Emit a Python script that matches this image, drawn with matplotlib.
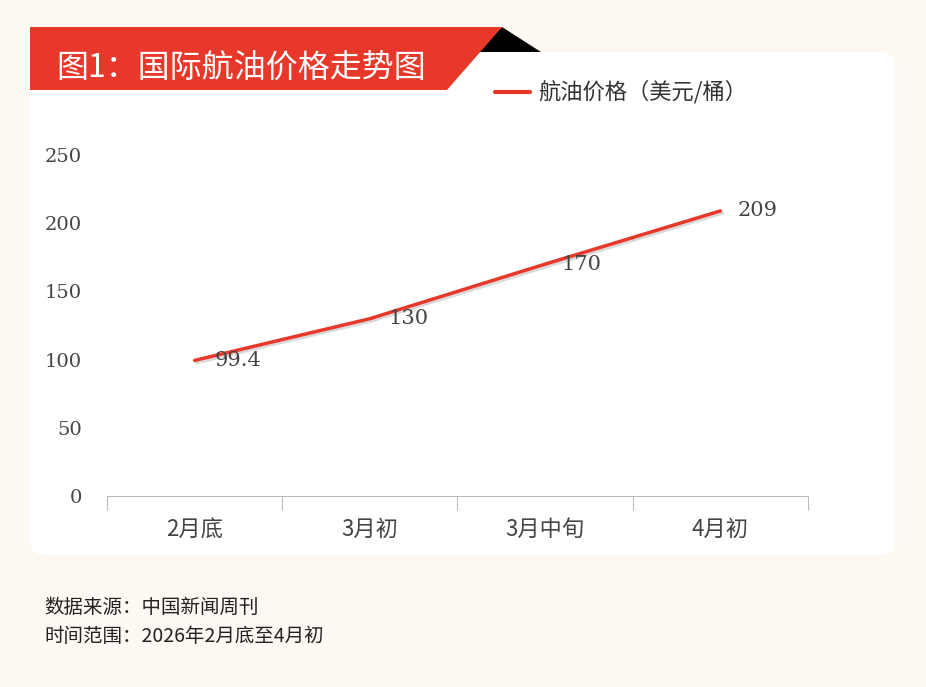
import matplotlib
matplotlib.use("Agg")
import matplotlib.pyplot as plt
from matplotlib.patches import Polygon, FancyBboxPatch
import matplotlib.patheffects as pe

plt.rcParams['font.family'] = ['Noto Sans CJK SC', 'DejaVu Sans']

categories = ['2月底', '3月初', '3月中旬', '4月初']
prices = [99.4, 130, 170, 209]
price_labels = ['99.4', '130', '170', '209']
yticks = [0, 50, 100, 150, 200, 250]

W, H = 926, 687
RED = '#e8382a'
fig = plt.figure(figsize=(W / 100, H / 100), dpi=100)
fig.patch.set_facecolor('#fdf8f1')

# decoration layer in pixel coordinates (y down)
deco = fig.add_axes([0, 0, 1, 1])
deco.set_xlim(0, W)
deco.set_ylim(H, 0)
deco.axis('off')
deco.add_patch(FancyBboxPatch((30, 52), 865, 503, boxstyle='round,pad=0,rounding_size=14',
                              facecolor='white', edgecolor='none'))
deco.add_patch(Polygon([(502, 27), (478, 52), (541, 52)], closed=True, facecolor='black'))
deco.add_patch(Polygon([(30, 27), (502, 27), (447, 90), (30, 90)], closed=True, facecolor=RED))
deco.text(56, 68, '图1：国际航油价格走势图', color='white', fontsize=23, va='center')
deco.plot([495, 530], [92, 92], color=RED, lw=3, solid_capstyle='round')
deco.text(538, 92, '航油价格（美元/桶）', fontsize=16, va='center', color='#333333')
deco.text(44, 607, '数据来源：中国新闻周刊', fontsize=14, va='center', color='#222222')
deco.text(44, 636, '时间范围：2026年2月底至4月初', fontsize=14, va='center', color='#222222')

ax = fig.add_axes([107 / W, 1 - 496 / H, 701 / W, 341 / H])
ax.set_facecolor('none')
x = [i + 0.5 for i in range(len(categories))]
ax.plot(x, prices, color=RED, lw=2.5, solid_capstyle='round',
        path_effects=[pe.SimpleLineShadow(offset=(1.5, -1.5), alpha=0.15), pe.Normal()])
offsets = [(0.25, 0, 'center'), (0.22, 0, 'center'), (0.21, 0, 'center'), (0.1, 0, 'left')]
for xi, yi, lab, (dx, dy, ha) in zip(x, prices, price_labels, offsets):
    ax.text(xi + dx, yi + dy, lab, fontsize=15, color='#444444',
            ha=ha, va='center', family=['DejaVu Serif'])
ax.set_xlim(0, 4)
ax.set_ylim(0, 250)
ax.set_yticks(yticks)
ax.set_yticklabels([str(v) for v in yticks], fontsize=14, color='#444444', family=['DejaVu Serif'])
ax.tick_params(axis='y', length=0, pad=18)
ax.set_xticks([0, 1, 2, 3, 4])
ax.set_xticklabels([])
ax.set_xticks(x, minor=True)
ax.set_xticklabels(categories, minor=True, fontsize=16, color='#444444')
ax.tick_params(axis='x', which='major', length=10, color='#bbbbbb', direction='out')
ax.tick_params(axis='x', which='minor', length=0, pad=16)
for s in ['top', 'right', 'left']:
    ax.spines[s].set_visible(False)
ax.spines['bottom'].set_color('#bbbbbb')

fig.savefig('out.png', dpi=100, facecolor=fig.get_facecolor())
